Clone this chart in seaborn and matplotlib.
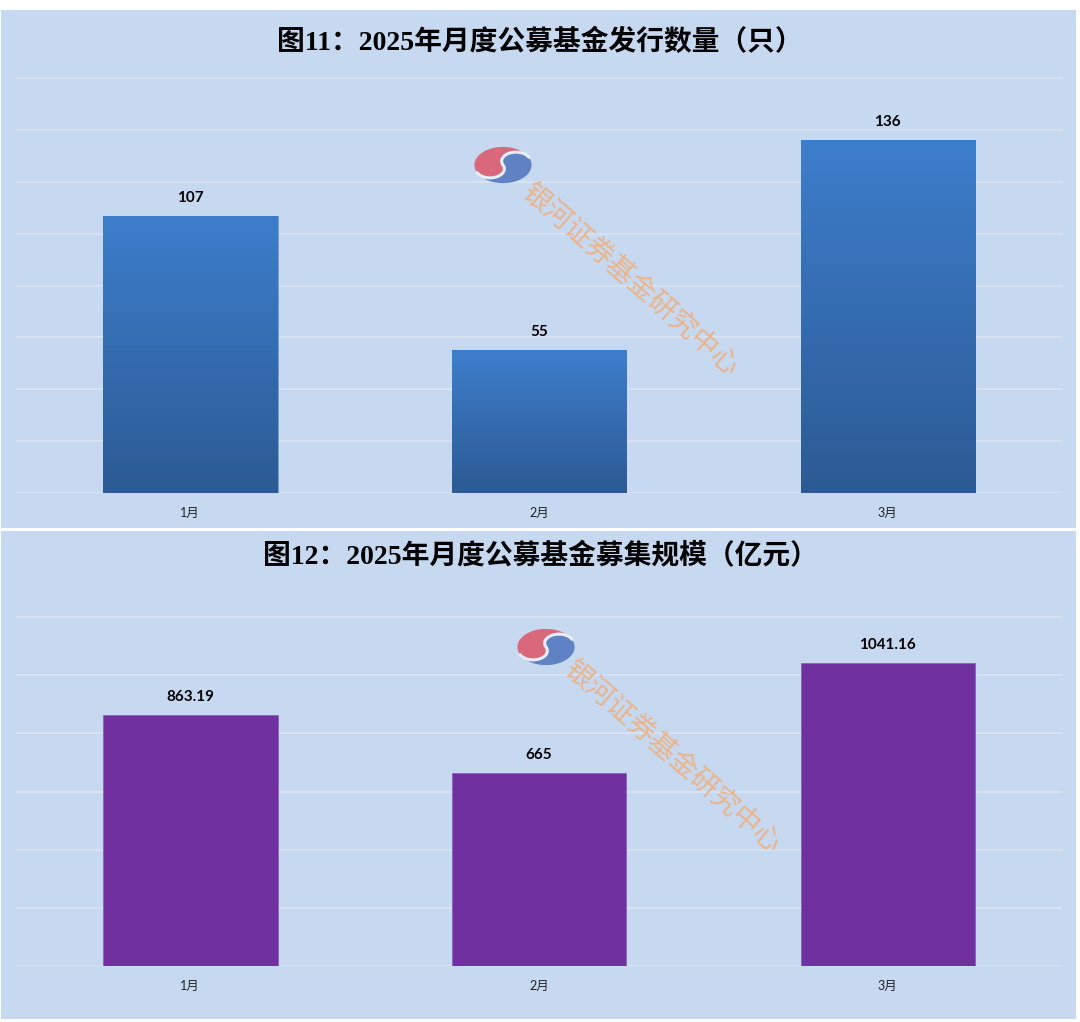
import numpy as np
import pandas as pd
import matplotlib
matplotlib.use('Agg')
import matplotlib.pyplot as plt
from matplotlib.patches import Rectangle, Polygon
from matplotlib.colors import LinearSegmentedColormap
import seaborn as sns

# data
months = ['1月', '2月', '3月']
issue_count = [107, 55, 136]
raise_scale = [863.19, 665, 1041.16]
raise_labels = ['863.19', '665', '1041.16']

title_top = '图11：2025年月度公募基金发行数量（只）'
title_bottom = '图12：2025年月度公募基金募集规模（亿元）'
watermark = '银河证券基金研究中心'

sns.set_style('white')
plt.rcParams['font.family'] = ['Lato', 'Noto Sans CJK SC', 'DejaVu Sans']

W, H = 1080, 1022
bg = '#C6D9F0'
grid_col = '#DCE6F3'

fig = plt.figure(figsize=(W / 100, H / 100), dpi=100)
fig.patch.set_facecolor('white')

# two light blue panels (behind the axes)
for y0, y1 in [(10, 528), (531, 1019)]:
    fig.patches.append(Rectangle((1 / W, 1 - y1 / H), 1075 / W, (y1 - y0) / H,
                                 transform=fig.transFigure, facecolor=bg,
                                 edgecolor='none', zorder=-5))


def px_axes(x0, y_top, x1, y_bot):
    return fig.add_axes([x0 / W, 1 - y_bot / H, (x1 - x0) / W, (y_bot - y_top) / H])


def style_axes(ax, ymax, step):
    ax.set_facecolor('none')
    ax.set_xlim(-0.5, 2.5)
    ax.set_ylim(0, ymax * 1.003)
    ax.set_yticks(np.arange(0, ymax + 1, step))
    ax.set_yticklabels([])
    ax.tick_params(axis='y', length=0)
    ax.tick_params(axis='x', length=0, pad=10, labelsize=9, labelcolor='#222222')
    ax.grid(axis='y', color=grid_col, linewidth=1.1)
    ax.set_axisbelow(True)
    sns.despine(ax=ax, left=True, bottom=True)
    ax.set_xlabel('')
    ax.set_ylabel('')


# ---- top chart: issue count with gradient bars
ax1 = px_axes(16, 77, 1062, 493)
df1 = pd.DataFrame({'month': months, 'count': issue_count})
sns.barplot(data=df1, x='month', y='count', color='#3A78C4', width=0.5, ax=ax1,
            saturation=1)
style_axes(ax1, 160, 20)

grad = LinearSegmentedColormap.from_list('g', ['#2C5A94', '#3D7ECC'])
for p in ax1.patches:
    x0, y0 = p.get_x(), p.get_y()
    w, h = p.get_width(), p.get_height()
    p.set_facecolor('none')
    p.set_edgecolor('#4F85C6')
    p.set_linewidth(0.5)
    im = ax1.imshow(np.linspace(0, 1, 256).reshape(-1, 1), cmap=grad, origin='lower',
                    extent=[x0, x0 + w, y0, y0 + h], aspect='auto', zorder=2)
    im.set_clip_path(p)
ax1.set_xlim(-0.5, 2.5)
ax1.set_ylim(0, 160 * 1.003)
ax1.bar_label(ax1.containers[0], labels=[str(v) for v in issue_count], padding=8,
              fontsize=11, fontweight='bold', color='black')

# ---- bottom chart: raised scale
ax2 = px_axes(16, 616, 1062, 966)
df2 = pd.DataFrame({'month': months, 'scale': raise_scale})
sns.barplot(data=df2, x='month', y='scale', color='#7030A0', width=0.5, ax=ax2,
            saturation=1, edgecolor='#8A5BB8', linewidth=0.5)
style_axes(ax2, 1200, 200)
ax2.bar_label(ax2.containers[0], labels=raise_labels, padding=8,
              fontsize=11, fontweight='bold', color='black')

# ---- titles
for ytitle, txt in [(42, title_top), (557, title_bottom)]:
    fig.text(0.5, 1 - ytitle / H, txt, ha='center', va='center', fontsize=20,
             fontweight='bold', family=['Liberation Serif', 'Noto Sans CJK SC'],
             color='black')


# ---- watermark: logo + rotated text
def logo(cx, cy, w=60, h=38):
    lax = fig.add_axes([(cx - w / 2) / W, 1 - (cy + h / 2) / H, w / W, h / H])
    lax.set_xlim(-1.05, 1.05)
    lax.set_ylim(-1.05, 1.05)
    lax.axis('off')
    a = np.deg2rad(25)
    u = np.array([np.cos(a), np.sin(a)])
    t = np.linspace(0, np.pi, 60)
    arc1 = 0.5 * u[:, None] + 0.5 * np.vstack([np.cos(a + t), np.sin(a + t)])
    arc2 = -0.5 * u[:, None] + 0.5 * np.vstack([np.cos(a - t), np.sin(a - t)])
    s_curve = np.hstack([arc1, arc2])
    big_red = np.linspace(a + np.pi, a, 120)
    big_blue = np.linspace(a + np.pi, a + 2 * np.pi, 120)
    red_poly = np.hstack([s_curve, np.vstack([np.cos(big_red), np.sin(big_red)])])
    blue_poly = np.hstack([s_curve, np.vstack([np.cos(big_blue), np.sin(big_blue)])])
    lax.add_patch(Polygon(red_poly.T, closed=True, facecolor='#D9687C', edgecolor='none'))
    lax.add_patch(Polygon(blue_poly.T, closed=True, facecolor='#5E82C4', edgecolor='none'))
    lax.plot(s_curve[0], s_curve[1], color='#E8EEF8', lw=2.2)


logo(503, 165)
logo(546, 647)
for cx, cy in [(630, 280), (672, 757)]:
    fig.text(cx / W, 1 - cy / H, watermark, ha='center', va='center', fontsize=20,
             rotation=-41, rotation_mode='anchor', color='#F2AE78', alpha=0.85,
             family=['Noto Sans CJK SC'], zorder=10)

fig.savefig('out.png', dpi=100, facecolor='white')
